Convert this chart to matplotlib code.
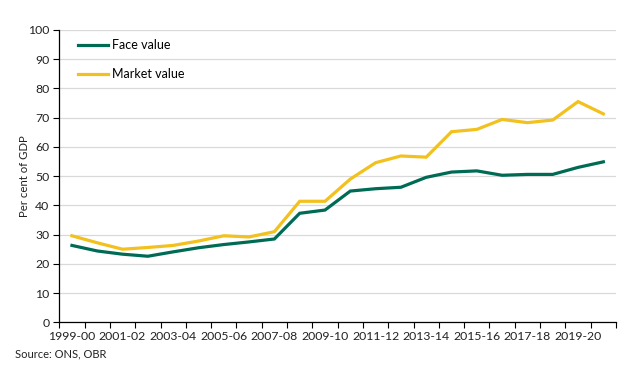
import matplotlib
matplotlib.use("Agg")
import matplotlib.pyplot as plt
import numpy as np

years = ["1999-00", "2000-01", "2001-02", "2002-03", "2003-04", "2004-05", "2005-06",
         "2006-07", "2007-08", "2008-09", "2009-10", "2010-11", "2011-12", "2012-13",
         "2013-14", "2014-15", "2015-16", "2016-17", "2017-18", "2018-19", "2019-20",
         "2020-21"]
face_value = [26.3, 24.4, 23.3, 22.6, 24.1, 25.5, 26.6, 27.5, 28.5, 37.3, 38.4, 44.9,
              45.7, 46.2, 49.6, 51.4, 51.8, 50.3, 50.6, 50.6, 53.0, 54.9]
market_value = [29.6, 27.2, 25.0, 25.6, 26.3, 27.8, 29.6, 29.2, 31.0, 41.4, 41.4, 49.0,
                54.6, 56.9, 56.5, 65.2, 66.0, 69.4, 68.3, 69.2, 75.5, 71.3]
yticks = list(range(0, 101, 10))

plt.rcParams['font.family'] = ['Lato', 'DejaVu Sans']
fig = plt.figure(figsize=(6.4, 3.83), dpi=100)
ax = fig.add_axes([59.3 / 640, 1 - 322.3 / 383, (616 - 59.3) / 640, (322.3 - 30) / 383])

x = np.arange(len(years))
green = "#006B54"
yellow = "#F2C11D"
ax.plot(x, face_value, color=green, lw=2.3, label="Face value", solid_joinstyle="miter", zorder=3)
ax.plot(x, market_value, color=yellow, lw=2.3, label="Market value", solid_joinstyle="miter", zorder=3)

ax.set_xlim(-0.5, len(years) - 0.5)
ax.set_ylim(0, 100)
ax.set_yticks(yticks)
ax.set_yticklabels([str(v) for v in yticks], fontsize=8.8, color="#222222")
ax.yaxis.grid(True, color="#d9d9d9", lw=0.9)
ax.set_axisbelow(True)

ax.set_xticks(x[::2])
ax.set_xticklabels(years[::2], fontsize=8.8, color="#222222")
ax.set_xticks(np.arange(-0.5, len(years), 1.0), minor=True)
ax.tick_params(axis="x", which="major", length=0, pad=6)
ax.tick_params(axis="x", which="minor", length=4, width=0.8, direction="out")
ax.tick_params(axis="y", length=4, width=0.8, pad=3)

for s in ["top", "right"]:
    ax.spines[s].set_visible(False)
for s in ["left", "bottom"]:
    ax.spines[s].set_color("black")
    ax.spines[s].set_linewidth(0.9)

ax.set_ylabel("Per cent of GDP", fontsize=8.2, color="#222222", labelpad=-1)

leg = ax.legend(loc="upper left", bbox_to_anchor=(0.013, 1.008), frameon=False,
                fontsize=9, handlelength=2.4, handletextpad=0.3, labelspacing=1.4)

fig.text(15 / 640, 1 - 354 / 383, "Source: ONS, OBR", fontsize=8, color="#222222",
         va="center", ha="left")

fig.savefig("out.png", dpi=100)
